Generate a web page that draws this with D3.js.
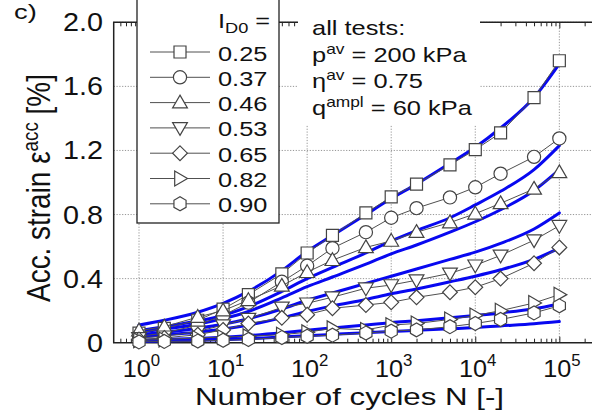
<!DOCTYPE html>
<html>
<head>
<meta charset="utf-8">
<script src="https://cdn.jsdelivr.net/npm/d3@7"></script>
<style>
  html, body { margin: 0; padding: 0; background: #fff; }
  svg { display: block; }
  text { font-family: "Liberation Sans", Arial, Helvetica, sans-serif; fill: #111; }
</style>
</head>
<body>
<svg id="chart" width="592" height="417"></svg>
<script>
// Number of cycles at which the accumulated strain was recorded
const cycles = [1, 2, 5, 10, 20, 50, 100, 200, 500, 1000, 2000, 5000, 1e4, 2e4, 5e4, 1e5];

// Initial relative density of each test
const densityLabels = ["0.25", "0.37", "0.46", "0.53", "0.65", "0.82", "0.90"];

// Measured accumulated strain [%]
const measured025 = [0.06, 0.09, 0.14, 0.21, 0.30, 0.43, 0.56, 0.67, 0.81, 0.91, 0.99, 1.11, 1.205, 1.31, 1.53, 1.76];
const measured037 = [0.04, 0.06, 0.11, 0.17, 0.25, 0.38, 0.48, 0.59, 0.69, 0.78, 0.84, 0.907, 0.97, 1.055, 1.16, 1.275];
const measured046 = [0.075, 0.10, 0.16, 0.20, 0.265, 0.355, 0.44, 0.515, 0.595, 0.635, 0.69, 0.75, 0.805, 0.87, 0.96, 1.063];
const measured053 = [0.03, 0.04, 0.07, 0.11, 0.15, 0.22, 0.246, 0.284, 0.34, 0.36, 0.39, 0.433, 0.483, 0.545, 0.64, 0.73];
const measured065 = [0.02, 0.03, 0.05, 0.08, 0.12, 0.155, 0.175, 0.215, 0.235, 0.252, 0.283, 0.315, 0.346, 0.40, 0.496, 0.595];
const measured082 = [0.015, 0.02, 0.03, 0.035, 0.04, 0.05, 0.065, 0.09, 0.08, 0.11, 0.12, 0.145, 0.17, 0.20, 0.248, 0.30];
const measured090 = [0.005, 0.008, 0.01, 0.015, 0.02, 0.032, 0.04, 0.047, 0.06, 0.072, 0.08, 0.10, 0.12, 0.145, 0.186, 0.23];

// Model prediction for each test [%]
const model025 = [0.11, 0.14, 0.19, 0.245, 0.32, 0.45, 0.57, 0.67, 0.80, 0.90, 0.99, 1.12, 1.22, 1.34, 1.53, 1.74];
const model037 = [0.075, 0.10, 0.135, 0.17, 0.225, 0.32, 0.40, 0.47, 0.56, 0.635, 0.70, 0.78, 0.86, 0.945, 1.08, 1.23];
const model046 = [0.065, 0.085, 0.115, 0.15, 0.195, 0.28, 0.35, 0.41, 0.49, 0.555, 0.61, 0.69, 0.755, 0.83, 0.95, 1.08];
const model053 = [0.05, 0.065, 0.09, 0.115, 0.15, 0.21, 0.265, 0.31, 0.37, 0.415, 0.46, 0.52, 0.565, 0.62, 0.71, 0.81];
const model065 = [0.035, 0.05, 0.065, 0.085, 0.11, 0.155, 0.195, 0.23, 0.27, 0.305, 0.335, 0.38, 0.415, 0.455, 0.52, 0.59];
const model082 = [0.015, 0.02, 0.027, 0.034, 0.044, 0.062, 0.078, 0.092, 0.11, 0.125, 0.137, 0.155, 0.17, 0.186, 0.212, 0.242];
const model090 = [0.008, 0.011, 0.015, 0.019, 0.025, 0.035, 0.044, 0.052, 0.062, 0.07, 0.077, 0.087, 0.095, 0.105, 0.118, 0.132];

const markerShapes = ["square", "circle", "triangleUp", "triangleDown", "diamond", "triangleRight", "hexagon"];

// Axis ticks
const yTicks = [0, 0.4, 0.8, 1.2, 1.6, 2.0];
const yTickLabels = ["0", "0.4", "0.8", "1.2", "1.6", "2.0"];
const xTicks = [1, 10, 100, 1000, 1e4, 1e5];
const xTickExponents = ["0", "1", "2", "3", "4", "5"];

const annotationLines = [
  { base: "all tests:", sup: "", rest: "" },
  { base: "p", sup: "av", rest: " = 200 kPa" },
  { base: "\u03b7", sup: "av", rest: " = 0.75" },
  { base: "q", sup: "ampl", rest: " = 60 kPa" }
];

// ---------------------------------------------------------------
const measured = [measured025, measured037, measured046, measured053, measured065, measured082, measured090];
const models = [model025, model037, model046, model053, model065, model082, model090];
const series = densityLabels.map((label, i) => ({
  label,
  shape: markerShapes[i],
  points: cycles.map((n, j) => ({ n, v: measured[i][j] })),
  fit: cycles.map((n, j) => ({ n, v: models[i][j] }))
}));

const svg = d3.select("#chart");

const x = d3.scaleLog().domain([0.5, 2.5e5]).range([113.7, 592.8]);
const y = d3.scaleLinear().domain([0, 2]).range([342.7, 22.3]);
const [x0, x1] = x.range();
const [yBottom, yTop] = y.range();

// Dotted grid
const grid = svg.append("g").attr("stroke", "#8a8a8a").attr("stroke-width", 0.9)
  .attr("stroke-dasharray", "1.2,1.6").attr("fill", "none");
grid.selectAll("line.gx").data(xTicks).join("line")
  .attr("x1", d => x(d)).attr("x2", d => x(d)).attr("y1", yTop).attr("y2", yBottom);
grid.selectAll("line.gy").data(yTicks.slice(1)).join("line")
  .attr("x1", x0).attr("x2", x1).attr("y1", d => y(d)).attr("y2", d => y(d));

// Minor ticks (2..9 of each decade)
const minor = [];
for (let e = -1; e <= 5; e++) for (let m = 2; m <= 9; m++) {
  const v = m * Math.pow(10, e);
  if (v > 0.5 && v < 2.5e5) minor.push(v);
}

const frame = svg.append("g");
const bottomAxis = frame.append("g").attr("transform", `translate(0,${yBottom})`);
bottomAxis.call(d3.axisBottom(x).tickValues(minor).tickSize(-4).tickFormat(""));
bottomAxis.append("g").call(d3.axisBottom(x).tickValues(xTicks).tickSize(-6).tickFormat(""));
const topAxis = frame.append("g").attr("transform", `translate(0,${yTop})`);
topAxis.call(d3.axisTop(x).tickValues(minor).tickSize(-4).tickFormat(""));
topAxis.append("g").call(d3.axisTop(x).tickValues(xTicks).tickSize(-6).tickFormat(""));
frame.selectAll(".domain").remove();
frame.selectAll(".tick line").attr("stroke", "#222").attr("stroke-width", 1);

frame.append("path")
  .attr("d", `M${x1 + 2},${yTop}H${x0}V${yBottom}H${x1 + 2}`)
  .attr("fill", "none").attr("stroke", "#222").attr("stroke-width", 1.5);

// Model curves
const fitLine = d3.line().x(d => x(d.n)).y(d => y(d.v)).curve(d3.curveMonotoneX);
svg.append("g").selectAll("path").data(series).join("path")
  .attr("d", d => fitLine(d.fit))
  .attr("fill", "none").attr("stroke", "#0808f0").attr("stroke-width", 3)
  .attr("stroke-linecap", "round");

// Marker shapes
function markerPath(shape) {
  const p = d3.path();
  switch (shape) {
    case "square": p.rect(-6, -6, 12, 12); break;
    case "circle": p.arc(0, 0, 6.6, 0, 2 * Math.PI); p.closePath(); break;
    case "triangleUp": p.moveTo(0, -7.5); p.lineTo(7.4, 5.3); p.lineTo(-7.4, 5.3); p.closePath(); break;
    case "triangleDown": p.moveTo(0, 7.5); p.lineTo(7.4, -5.3); p.lineTo(-7.4, -5.3); p.closePath(); break;
    case "diamond": p.moveTo(0, -7.4); p.lineTo(7.4, 0); p.lineTo(0, 7.4); p.lineTo(-7.4, 0); p.closePath(); break;
    case "triangleRight": p.moveTo(7.5, 0); p.lineTo(-5.3, 7.4); p.lineTo(-5.3, -7.4); p.closePath(); break;
    case "hexagon":
      for (let k = 0; k < 6; k++) {
        const a = Math.PI / 2 + k * Math.PI / 3;
        const px = 7 * Math.cos(a), py = 7 * Math.sin(a);
        if (k === 0) p.moveTo(px, py); else p.lineTo(px, py);
      }
      p.closePath(); break;
  }
  return p.toString();
}

const markerStroke = "#444";
const dataLine = d3.line().x(d => x(d.n)).y(d => y(d.v));
const dataG = svg.append("g");
series.forEach(s => {
  const g = dataG.append("g");
  g.append("path").attr("d", dataLine(s.points))
    .attr("fill", "none").attr("stroke", "#505050").attr("stroke-width", 1);
  g.selectAll("path.m").data(s.points).join("path").attr("class", "m")
    .attr("transform", d => `translate(${x(d.n)},${y(d.v)})`)
    .attr("d", markerPath(s.shape))
    .attr("fill", "#fff").attr("stroke", markerStroke).attr("stroke-width", 1.2);
});

// Text helper: horizontally scaled text made of tspans
function stretchedText(parent, tx, ty, sx, size, anchor, parts) {
  const g = parent.append("g").attr("transform", `translate(${tx},${ty}) scale(${sx},1)`);
  const t = g.append("text").attr("x", 0).attr("y", 0)
    .attr("font-size", size).attr("text-anchor", anchor);
  parts.forEach(pt => {
    const ts = t.append("tspan").text(pt.text);
    if (pt.size) ts.attr("font-size", pt.size);
    if (pt.dy) ts.attr("dy", pt.dy);
  });
  return g;
}

// Y tick labels
yTicks.forEach((v, i) => {
  stretchedText(svg, 103, y(v) + 9, 1.15, 25, "end", [{ text: yTickLabels[i] }]);
});

// X tick labels 10^k
xTicks.forEach((v, i) => {
  stretchedText(svg, x(v) + 2.5, 377, 1.05, 24, "middle",
    [{ text: "10" }, { text: xTickExponents[i], size: 16, dy: -11 }]);
});

// Axis titles
stretchedText(svg, 349.5, 405, 1.33, 23.5, "middle", [{ text: "Number of cycles N [-]" }]);
svg.append("g").attr("transform", "translate(50,188) scale(1.38,1) rotate(-90) scale(1.14,1)")
  .append("text").attr("text-anchor", "middle").attr("font-size", 24.5)
  .call(t => {
    t.append("tspan").text("Acc. strain \u03b5");
    t.append("tspan").text("acc").attr("font-size", 16.5).attr("dy", -9);
    t.append("tspan").text(" [%]").attr("dy", 9);
  });

// Panel letter
stretchedText(svg, 14, 19, 1.3, 21, "start", [{ text: "c)" }]);

// Legend
const legend = svg.append("g");
legend.append("rect").attr("x", 137).attr("y", -5).attr("width", 142).attr("height", 228)
  .attr("fill", "#fff").attr("stroke", "#222").attr("stroke-width", 1.3);
stretchedText(legend, 218, 28, 1.3, 19.5, "start",
  [{ text: "I" }, { text: "D0", size: 14, dy: 5 }, { text: " =", dy: -5 }]);
series.forEach((s, i) => {
  const ry = 52 + 25.3 * i;
  legend.append("line").attr("x1", 150).attr("x2", 210).attr("y1", ry).attr("y2", ry)
    .attr("stroke", "#505050").attr("stroke-width", 1);
  legend.append("path").attr("transform", `translate(180,${ry})`).attr("d", markerPath(s.shape))
    .attr("fill", "#fff").attr("stroke", markerStroke).attr("stroke-width", 1.2);
  stretchedText(legend, 218, ry + 8.5, 1.3, 19.5, "start", [{ text: s.label }]);
});

// Test conditions
const note = svg.append("g");
note.append("rect").attr("x", 298).attr("y", -5).attr("width", 182).attr("height", 130).attr("fill", "#fff");
annotationLines.forEach((ln, i) => {
  const parts = [{ text: ln.base }];
  if (ln.sup) parts.push({ text: ln.sup, size: 14, dy: -8 }, { text: ln.rest, dy: 8 });
  stretchedText(note, 312, 35 + 26.7 * i, 1.24, 20.5, "start", parts);
});
</script>
</body>
</html>
